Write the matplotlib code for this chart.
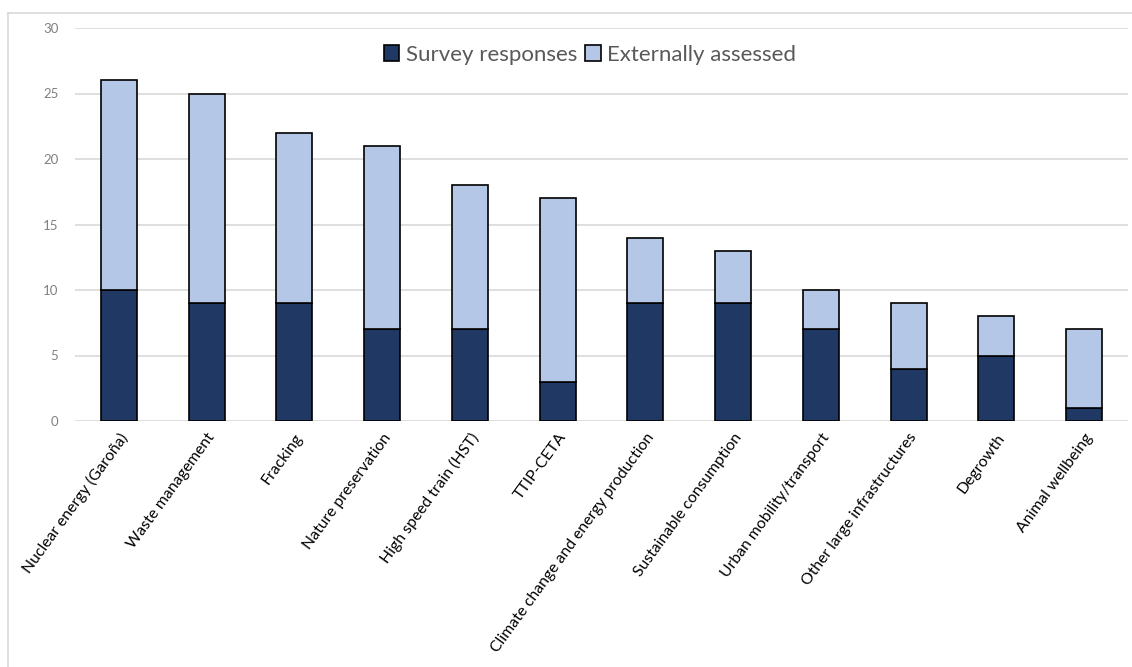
import matplotlib
matplotlib.use("Agg")
import matplotlib.pyplot as plt
from matplotlib.lines import Line2D
from matplotlib.patches import Patch

categories = ["Nuclear energy (Garoña)", "Waste management", "Fracking",
              "Nature preservation", "High speed train (HST)", "TTIP-CETA",
              "Climate change and energy production", "Sustainable consumption",
              "Urban mobility/transport", "Other large infrastructures",
              "Degrowth", "Animal wellbeing"]
survey = [10, 9, 9, 7, 7, 3, 9, 9, 7, 4, 5, 1]
external = [16, 16, 13, 14, 11, 14, 5, 4, 3, 5, 3, 6]
yticks = [0, 5, 10, 15, 20, 25, 30]

dark = "#203864"
light = "#b4c7e7"

plt.rcParams['font.family'] = ['Lato', 'DejaVu Sans']

fig = plt.figure(figsize=(11.32, 6.67), dpi=100)
ax = fig.add_axes([75/1132, 1-421/667, (1128-75)/1132, (421-28)/667])

x = list(range(len(categories)))
ax.bar(x, survey, width=0.41, color=dark, edgecolor="black", linewidth=1.2, zorder=3,
       label="Survey responses")
ax.bar(x, external, width=0.41, bottom=survey, color=light, edgecolor="black",
       linewidth=1.2, zorder=3, label="Externally assessed")

ax.set_xlim(-0.5, len(categories) - 0.5)
ax.set_ylim(0, 30)
ax.set_yticks(yticks)
ax.set_yticklabels([str(v) for v in yticks], color="#808080", fontsize=9.5)
ax.grid(axis="y", color="#d9d9d9", linewidth=1.2, zorder=0)
ax.tick_params(axis="y", length=0, pad=12)
ax.tick_params(axis="x", length=0, pad=7)
ax.set_xticks(x)
ax.set_xticklabels(categories, rotation=54, ha="right", rotation_mode="anchor",
                   fontsize=11.3, color="black")
for s in ax.spines.values():
    s.set_visible(False)

handles = [Patch(facecolor=dark, edgecolor="black", linewidth=1.2),
           Patch(facecolor=light, edgecolor="black", linewidth=1.2)]
fig.legend(handles, ["Survey responses", "Externally assessed"],
           loc="center", bbox_to_anchor=(590/1132, 1-55/667), ncol=2, frameon=False,
           fontsize=16, labelcolor="#595959", handlelength=0.7, handleheight=0.7,
           handletextpad=0.3, columnspacing=0.35)

# outer chart border
fig.add_artist(Line2D([8/1132, 1.0], [1-13/667, 1-13/667], color="#d9d9d9", linewidth=1.2,
                      transform=fig.transFigure))
fig.add_artist(Line2D([8/1132, 8/1132], [0, 1-13/667], color="#d9d9d9", linewidth=1.2,
                      transform=fig.transFigure))

fig.savefig("out.png", dpi=100)
